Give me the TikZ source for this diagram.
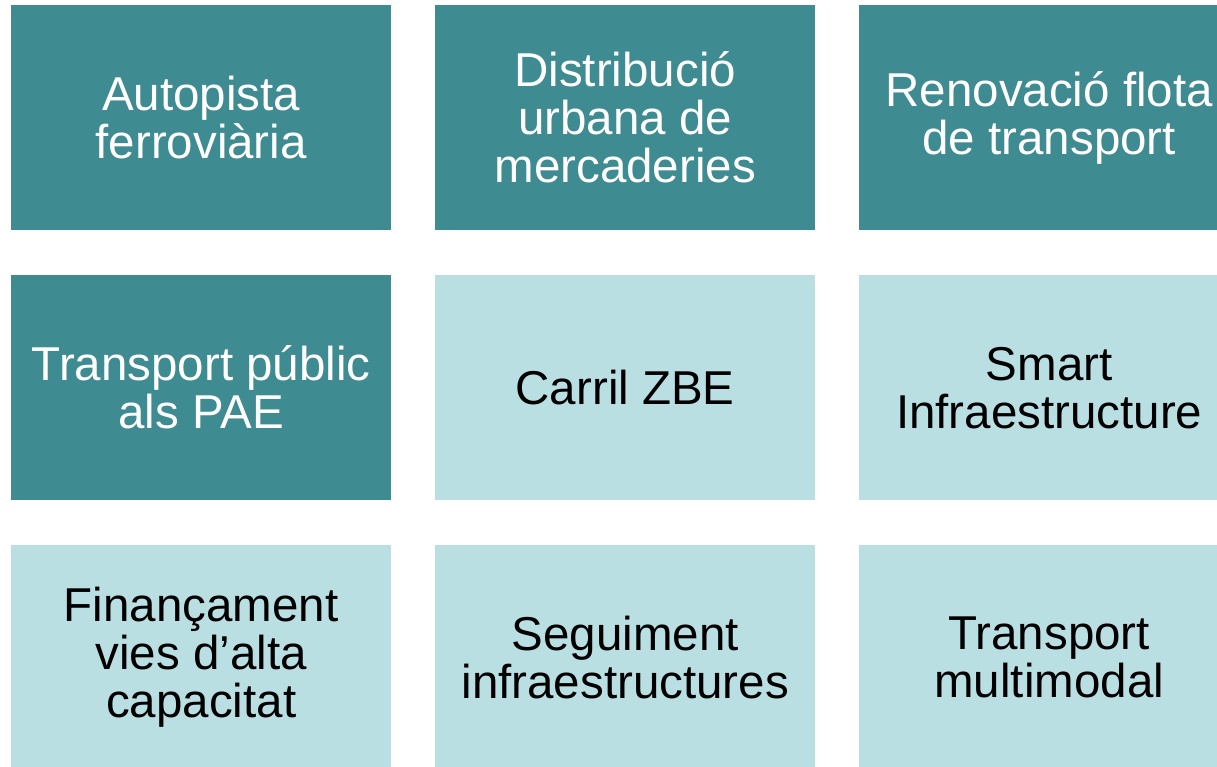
\documentclass[tikz,border=0pt]{standalone}
\usepackage{fontspec}
\setmainfont{Liberation Sans}
\definecolor{darkteal}{HTML}{3E8B91}
\definecolor{lightteal}{HTML}{BADFE2}
\begin{document}
\begin{tikzpicture}[x=1pt,y=-1pt,
  cell/.style={minimum width=380pt,minimum height=225pt,inner sep=0pt,anchor=north west,align=center,
    font=\fontsize{47.5}{48}\selectfont},
  darkcell/.style={cell,fill=darkteal,text=white},
  lightcell/.style={cell,fill=lightteal,text=black}]
\useasboundingbox (0,0) rectangle (1217,766);
\clip (0,0) rectangle (1217,766);
\node[darkcell] (a1) at (11,5) {Autopista\\ferroviària};
\node[darkcell] (a2) at (435,5) {Distribució\\urbana de\\mercaderies};
\node[darkcell] (a3) at (859,5) {Renovació flota\\de transport};
\node[darkcell] (b1) at (11,275) {Transport públic\\als PAE};
\node[lightcell] (b2) at (435,275) {Carril ZBE};
\node[lightcell] (b3) at (859,275) {Smart\\Infraestructure};
\node[lightcell] (c1) at (11,545) {Finançament\\vies d’alta\\capacitat};
\node[lightcell] (c2) at (435,545) {Seguiment\\infraestructures};
\node[lightcell] (c3) at (859,545) {Transport\\multimodal};
\end{tikzpicture}
\end{document}
